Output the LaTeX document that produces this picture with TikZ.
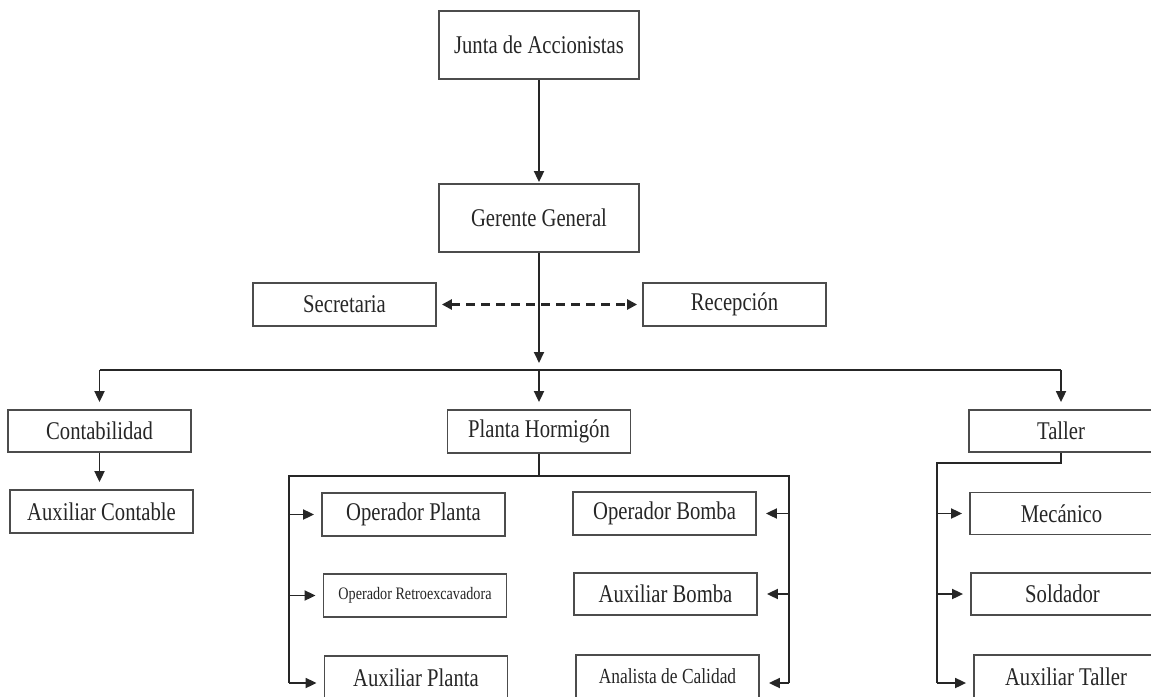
\documentclass[tikz,border=0pt]{standalone}
\usepackage{fontspec}
\setmainfont{Liberation Serif}[FakeStretch=0.81]
\usetikzlibrary{arrows.meta}
\begin{document}
\begin{tikzpicture}[x=1pt,y=-1pt,
  box/.style={draw=black!70, line width=1.8pt, fill=white,
    minimum width=#1, minimum height=43pt, inner sep=0pt,
    font=\fontsize{25.5}{28}\selectfont, text=black!85},
  box/.default=183pt,
  ln/.style={line width=1.8pt, draw=black!85},
  arr/.style={ln, -{Triangle[length=11pt,width=10pt]}, shorten >=7pt},
  dsh/.style={line width=2.8pt, draw=black!85, dash pattern=on 9pt off 6pt,
    {Triangle[length=10pt,width=10pt]}-{Triangle[length=10pt,width=10pt]},
    shorten <=5pt, shorten >=5pt}
]
\useasboundingbox (0,0) rectangle (1151,696);

% top of the chart
\node[box=200pt, minimum height=68pt] (junta) at (539,45) {Junta de Accionistas};
\node[box=200pt, minimum height=68pt] (gerente) at (539,218) {Gerente General};
\node[box] (secre) at (344.5,304.5) {Secretaria};
\node[box] (recep) at (734.5,304.5) {Recepción};

% departments
\node[box, minimum height=42pt] (conta) at (99.5,431) {Contabilidad};
\node[box] (planta) at (539,431.5) {Planta Hormigón};
\node[box=184pt, minimum height=42pt] (taller) at (1061,431) {Taller};

% staff
\node[box] (auxc) at (101.5,511.5) {Auxiliar Contable};
\node[box] (oplanta) at (413.5,514.5) {Operador Planta};
\node[box, font=\fontsize{17.5}{20}\selectfont] (retro) at (415,595.5) {Operador Retroexcavadora};
\node[box] (auxp) at (416,677.5) {Auxiliar Planta};
\node[box] (obomba) at (664.5,513.5) {Operador Bomba};
\node[box, minimum height=42pt] (auxb) at (665.5,594) {Auxiliar Bomba};
\node[box, font=\fontsize{21.5}{24}\selectfont] (anal) at (667.5,676.5) {Analista de Calidad};
\node[box, minimum height=42pt] (mec) at (1061.5,513.5) {Mecánico};
\node[box, minimum height=42pt] (sold) at (1062.5,594) {Soldador};
\node[box=184pt] (auxt) at (1066,676.5) {Auxiliar Taller};

% main branch
\draw[arr, shorten >=1pt] (junta.south) -- (gerente.north);
\draw[dsh] (secre.east) -- (recep.west);
\coordinate (barL) at (99.5,370);
\coordinate (barM) at (539,370);
\coordinate (barR) at (1061,370);
\draw[arr] (gerente.south) -- (barM);
\draw[ln] (barL) -- (barR);
\draw[arr] (barL) -- (conta.north);
\draw[arr] (barM) -- (planta.north);
\draw[arr] (barR) -- (taller.north);
\draw[arr] (conta.south) -- (conta.south |- auxc.north);

% plant branch
\coordinate (pj) at (539,476);
\coordinate (pl) at (289,476);
\coordinate (pr) at (789,476);
\coordinate (plb) at (289,683);
\coordinate (prb) at (789,683);
\draw[ln] (planta.south) -- (pj);
\draw[ln] (plb) -- (pl) -- (pr) -- (prb);
\draw[arr] (pl |- oplanta.west) -- (oplanta.west);
\draw[arr] (pl |- retro.west) -- (retro.west);
\draw[arr] (plb) -- (plb -| auxp.west);
\draw[arr, shorten >=9pt] (pr |- obomba.east) -- (obomba.east);
\draw[arr, shorten >=9pt] (pr |- auxb.east) -- (auxb.east);
\draw[arr, shorten >=9pt] (prb) -- (prb -| anal.east);

% workshop branch
\coordinate (tj) at (1061,463);
\coordinate (tl) at (937,463);
\coordinate (tlb) at (937,683);
\draw[ln] (taller.south) -- (tj) -- (tl) -- (tlb);
\draw[arr] (tl |- mec.west) -- (mec.west);
\draw[arr] (tl |- sold.west) -- (sold.west);
\draw[arr] (tlb) -- (tlb -| auxt.west);
\end{tikzpicture}
\end{document}
